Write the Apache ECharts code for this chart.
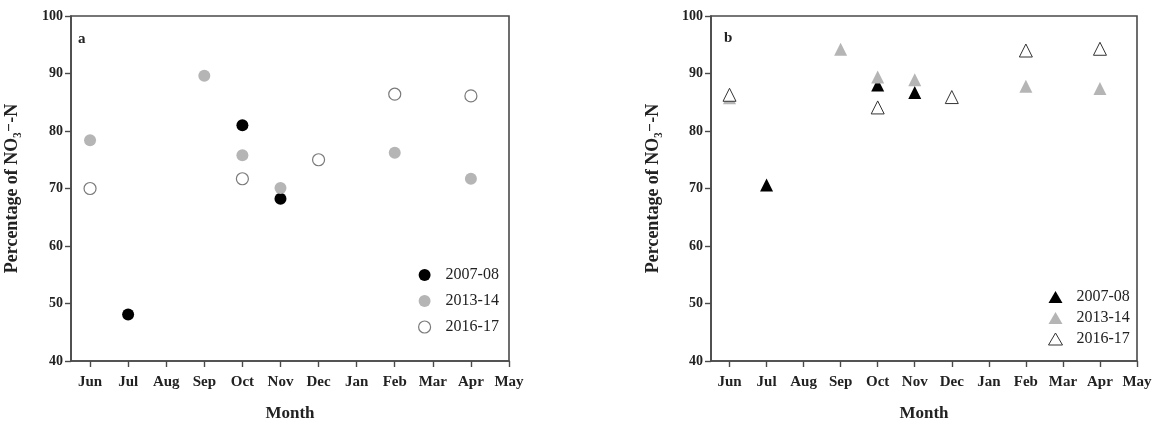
<!DOCTYPE html>
<html>
<head>
<meta charset="utf-8">
<script src="https://cdn.jsdelivr.net/npm/echarts@6/dist/echarts.min.js"></script>
<style>
html,body{margin:0;padding:0;background:#fff;}
#c{width:1176px;height:423px;}
</style>
</head>
<body>
<div id="c"></div>
<script>
const months = ['Jun','Jul','Aug','Sep','Oct','Nov','Dec','Jan','Feb','Mar','Apr','May'];
const seriesNames = ['2007-08','2013-14','2016-17'];
const yTicks = [40,50,60,70,80,90,100];

// Panel a (circles)
const a2007Months = ['Jul','Oct','Nov'];
const a2007Values = [48.1, 81.0, 68.2];
const a2013Months = ['Jun','Sep','Oct','Nov','Feb','Apr'];
const a2013Values = [78.4, 89.6, 75.8, 70.1, 76.2, 71.7];
const a2016Months = ['Jun','Oct','Dec','Feb','Apr'];
const a2016Values = [70.0, 71.7, 75.0, 86.4, 86.1];

// Panel b (triangles)
const b2007Months = ['Jul','Oct','Nov'];
const b2007Values = [70.6, 88.0, 86.7];
const b2013Months = ['Jun','Sep','Oct','Nov','Feb','Apr'];
const b2013Values = [85.8, 94.2, 89.4, 88.9, 87.8, 87.4];
const b2016Months = ['Jun','Oct','Dec','Feb','Apr'];
const b2016Values = [86.3, 84.1, 85.9, 94.0, 94.3];

function pts(ms, vs){ return ms.map((m,i)=>[months.indexOf(m)+1, vs[i]]); }
const monthPos = months.map((m,i)=>i+1);

const FONT = '"Liberation Serif", "DejaVu Serif", serif';
const AX = '#4a4a4a';

function xAxis(gi){
  return {
    type:'value', gridIndex:gi, min:0.5, max:12,
    name:'Month', nameLocation:'middle', nameGap:44,
    nameTextStyle:{fontFamily:FONT, fontWeight:'bold', fontSize:17, color:'#222'},
    axisLine:{show:true, lineStyle:{color:AX, width:1.6}},
    axisTick:{show:true, inside:false, length:6, customValues:monthPos, lineStyle:{color:AX, width:1.4}},
    axisLabel:{customValues:monthPos, formatter:v=>months[Math.round(v)-1]||'', margin:14,
      fontFamily:FONT, fontWeight:'bold', fontSize:15, color:'#222'},
    splitLine:{show:false}
  };
}
function yAxis(gi, gap){
  return {
    type:'value', gridIndex:gi, min:yTicks[0], max:yTicks[yTicks.length-1], interval:10,
    name:'Percentage of NO\u2083\u207B-N', nameLocation:'middle', nameGap:gap,
    nameTextStyle:{fontFamily:FONT, fontWeight:'bold', fontSize:18, color:'#222'},
    axisLine:{show:true, lineStyle:{color:AX, width:1.6}},
    axisTick:{show:true, inside:false, length:6, lineStyle:{color:AX, width:1.4}},
    axisLabel:{margin:8, fontFamily:FONT, fontWeight:'bold', fontSize:14, color:'#222'},
    splitLine:{show:false}
  };
}

const styleA = [
  {symbol:'circle', symbolSize:12, itemStyle:{color:'#000', borderColor:'#000', borderWidth:0, opacity:1}},
  {symbol:'circle', symbolSize:12, itemStyle:{color:'#b5b5b5', borderColor:'#b5b5b5', borderWidth:0, opacity:1}},
  {symbol:'circle', symbolSize:12, itemStyle:{color:'#fff', borderColor:'#7a7a7a', borderWidth:1.2, opacity:1}}
];
const styleB = [
  {symbol:'triangle', symbolSize:13, itemStyle:{color:'#000', borderColor:'#000', borderWidth:0, opacity:1}},
  {symbol:'triangle', symbolSize:13, itemStyle:{color:'#b5b5b5', borderColor:'#b5b5b5', borderWidth:0, opacity:1}},
  {symbol:'triangle', symbolSize:13, itemStyle:{color:'#fff', borderColor:'#333', borderWidth:1, opacity:1}}
];

const aData = [pts(a2007Months,a2007Values), pts(a2013Months,a2013Values), pts(a2016Months,a2016Values)];
const bData = [pts(b2007Months,b2007Values), pts(b2013Months,b2013Values), pts(b2016Months,b2016Values)];

const series = [];
seriesNames.forEach((n,i)=>{
  series.push(Object.assign({type:'scatter', name:n, xAxisIndex:0, yAxisIndex:0, data:aData[i], z:2+i}, styleA[i]));
});
seriesNames.forEach((n,i)=>{
  series.push(Object.assign({type:'scatter', name:n+' ', xAxisIndex:1, yAxisIndex:1, data:bData[i], z:2+i}, styleB[i]));
});

const legendText = {fontFamily:FONT, fontSize:16, color:'#222', lineHeight:16, padding:[0,0,0,9]};

const option = {
  backgroundColor:'#fff',
  animation:false,
  title:[
    {text:'a', left:73, top:27, textStyle:{fontFamily:FONT, fontWeight:'bold', fontSize:15, color:'#222'}},
    {text:'b', left:719, top:26, textStyle:{fontFamily:FONT, fontWeight:'bold', fontSize:15, color:'#222'}}
  ],
  grid:[
    {left:71, right:667, top:16, bottom:62, show:true, borderColor:AX, borderWidth:1.6, containLabel:false, outerBoundsMode:'none'},
    {left:711, right:39, top:16, bottom:62, show:true, borderColor:AX, borderWidth:1.6, containLabel:false, outerBoundsMode:'none'}
  ],
  xAxis:[xAxis(0), xAxis(1)],
  yAxis:[yAxis(0,50), yAxis(1,49)],
  legend:[
    {orient:'vertical', left:413, top:262, itemWidth:14, itemHeight:12, itemGap:10,
     data:seriesNames.map((n,i)=>({name:n, itemStyle:{borderWidth:styleA[i].itemStyle.borderWidth}})),
     textStyle:legendText, selectedMode:false},
    {orient:'vertical', left:1043, top:284, itemWidth:14, itemHeight:12, itemGap:5,
     data:seriesNames.map((n,i)=>({name:n+' ', itemStyle:{borderWidth:styleB[i].itemStyle.borderWidth}})),
     textStyle:legendText, selectedMode:false}
  ],
  series:series
};

const chart = echarts.init(document.getElementById('c'), null, {renderer:'canvas'});
chart.setOption(option);
</script>
</body>
</html>
